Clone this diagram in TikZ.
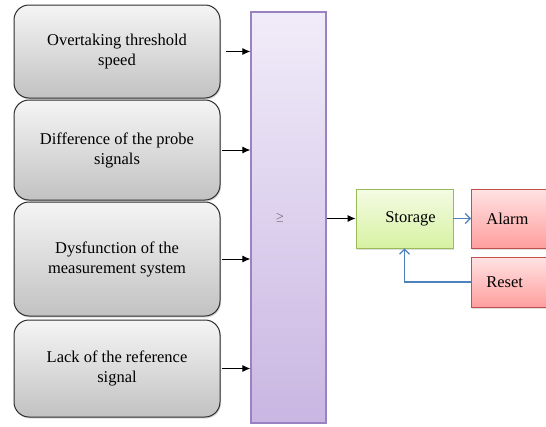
\documentclass[tikz,border=0pt]{standalone}
\usepackage{fontspec}
\setmainfont{Liberation Serif}
\usetikzlibrary{arrows.meta,shadows}
\definecolor{grayborder}{HTML}{2E2E2E}
\definecolor{purpleborder}{HTML}{9A82C2}
\definecolor{purpletop}{HTML}{F1ECF9}
\definecolor{purplebot}{HTML}{C9B6E2}
\definecolor{greenborder}{HTML}{9BBB59}
\definecolor{greentop}{HTML}{F4FBE4}
\definecolor{greenbot}{HTML}{D7F2A2}
\definecolor{redborder}{HTML}{C0504D}
\definecolor{redtop}{HTML}{FFE3E3}
\definecolor{redbot}{HTML}{FF9E9E}
\definecolor{bluearrow}{HTML}{4F81BD}
\tikzset{
  graybox/.style={draw=grayborder, line width=1pt, rounded corners=15pt,
    top color=gray!8, bottom color=gray!48, minimum width=206pt,
    align=center, font=\fontsize{16.5}{20}\selectfont,
    drop shadow={shadow xshift=1pt, shadow yshift=-1.5pt, opacity=0.3}},
  orbox/.style={draw=purpleborder, line width=1.2pt, top color=purpletop, bottom color=purplebot,
    minimum width=75pt, minimum height=411pt},
  storebox/.style={draw=greenborder, line width=0.8pt, top color=greentop, bottom color=greenbot,
    minimum width=97pt, minimum height=59pt, font=\fontsize{16.5}{20}\selectfont,
    drop shadow={shadow xshift=1pt, shadow yshift=-1.5pt, opacity=0.25}},
  redbox/.style={draw=redborder, line width=0.8pt, top color=redtop, bottom color=redbot,
    text width=70pt, inner xsep=15pt, align=left, font=\fontsize{16.5}{20}\selectfont,
    drop shadow={shadow xshift=1pt, shadow yshift=-1.5pt, opacity=0.25}},
  blk/.style={-{Latex[length=8pt,width=7pt]}, line width=1pt, black},
  blu/.style={-{Straight Barb[length=5pt,width=10pt]}, line width=1.2pt, bluearrow},
}
\begin{document}
\begin{tikzpicture}[x=1pt,y=-1pt]
\useasboundingbox[fill=white] (0,0) rectangle (546,426);
\node[graybox, minimum height=93pt] (b1) at (117,51.5) {Overtaking threshold\\speed};
\node[graybox, minimum height=100pt] (b2) at (117,150) {Difference of the probe\\signals};
\node[graybox, minimum height=114pt] (b3) at (117,259) {Dysfunction of the\\measurement system};
\node[graybox, minimum height=97pt] (b4) at (117,368.5) {Lack of the reference\\signal};
\node[orbox] (or) at (288.5,217.5) {};
\node[font=\fontsize{11}{12}\selectfont, text=black!75] (ge) at (280,218) {$\geq$};
\node[storebox] (st) at (404.5,218.5) {\hspace*{12pt}Storage};
\node[redbox, minimum height=59pt, anchor=west] (al) at (471,218.5) {Alarm};
\node[redbox, minimum height=50pt, anchor=west] (rs) at (471,282) {Reset};
\draw[blk, shorten <=5pt] (b1.east) -- (b1.east -| or.west);
\draw[blk, shorten <=1pt] (b2.east) -- (b2.east -| or.west);
\draw[blk, shorten <=1pt] (b3.east) -- (b3.east -| or.west);
\draw[blk, shorten <=1pt] (b4.east) -- (b4.east -| or.west);
\draw[blk] (or.east |- st.west) -- (st.west);
\draw[blu] (st.east) -- (al.west);
\draw[blu] (rs.west) -| (st.south);
\end{tikzpicture}
\end{document}
